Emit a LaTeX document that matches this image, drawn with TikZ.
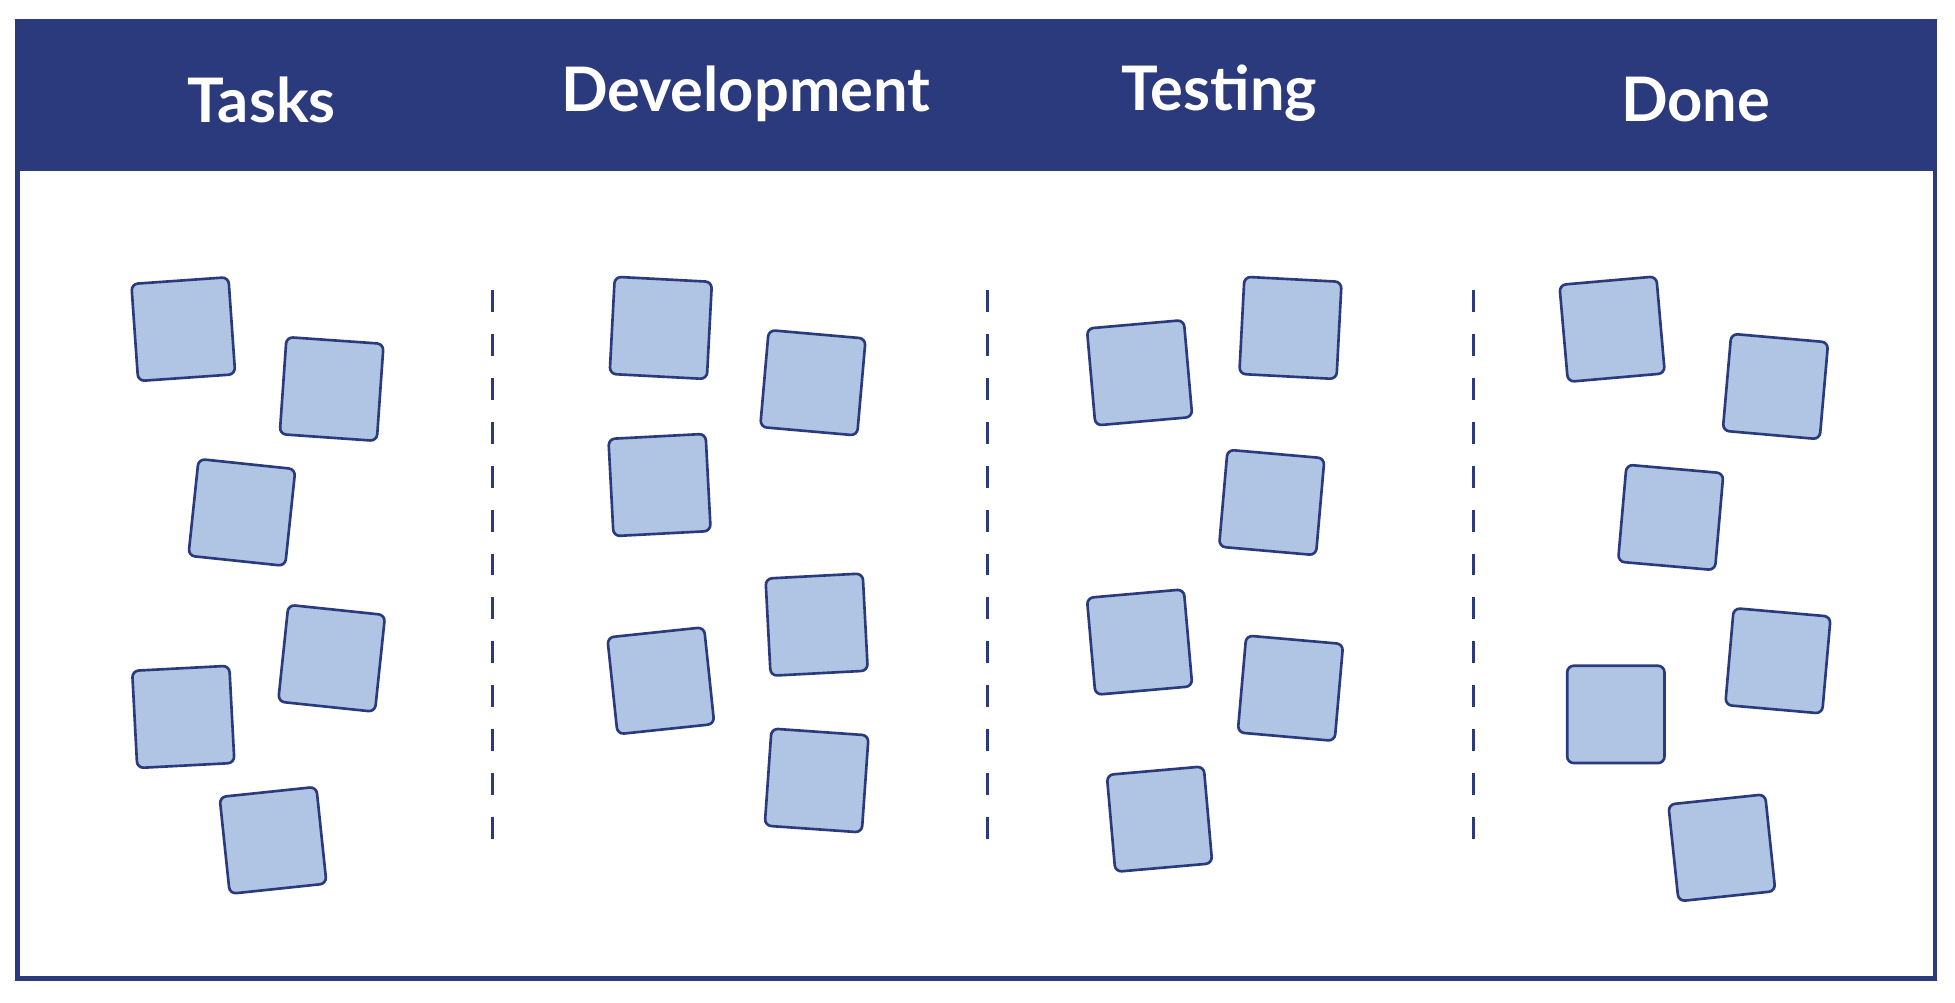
\documentclass[tikz,border=0pt]{standalone}
\usepackage{fontspec}
\setmainfont{Lato}
\definecolor{navy}{HTML}{2B3A7C}
\definecolor{card}{HTML}{B0C4E3}
\tikzset{
  card/.style={draw=navy, fill=card, line width=0.6pt, rounded corners=1.5pt,
    minimum size=0.78cm, inner sep=0pt},
  title/.style={text=white, font=\fontsize{14}{16}\selectfont\bfseries},
  lane/.style={navy, dashed, dash pattern=on 5pt off 5pt, line width=0.6pt}
}
\begin{document}
\begin{tikzpicture}[x=0.01cm,y=-0.01cm]
    \useasboundingbox (0,0) rectangle (1568,804);
    % header
    \fill [navy] (14,17) rectangle (1552,137);
    \draw [navy, line width=1.1pt] (14,17) rectangle (1552,785);
    \node [title] (tasks) at (210,80) {Tasks};
    \node [title] (dev) at (598,75) {Development};
    \node [title] (test) at (978,75) {Testing};
    \node [title] (done) at (1360,80) {Done};
    % lanes
    \foreach \x in {395,792,1182}
        \draw [lane] (\x,233) -- (\x,690);
    % cards
    \foreach \x/\y/\r [count=\i] in {
        147/264/4, 266/312/-4, 194/411/-6, 266/528/-6, 147/575/3, 219/674/6,
        530/263/-3, 652/307/-5, 529/389/3, 530/546/6, 655/501/3, 655/626/-4,
        914/299/5, 1035/263/-3, 1020/403/-5, 914/515/5, 1035/552/-5, 930/657/5,
        1293/264/5, 1424/310/-5, 1340/415/-5, 1426/530/-5, 1296/573/0, 1381/680/6}
        \node [card, rotate=\r] (c\i) at (\x,\y) {};
\end{tikzpicture}
\end{document}
